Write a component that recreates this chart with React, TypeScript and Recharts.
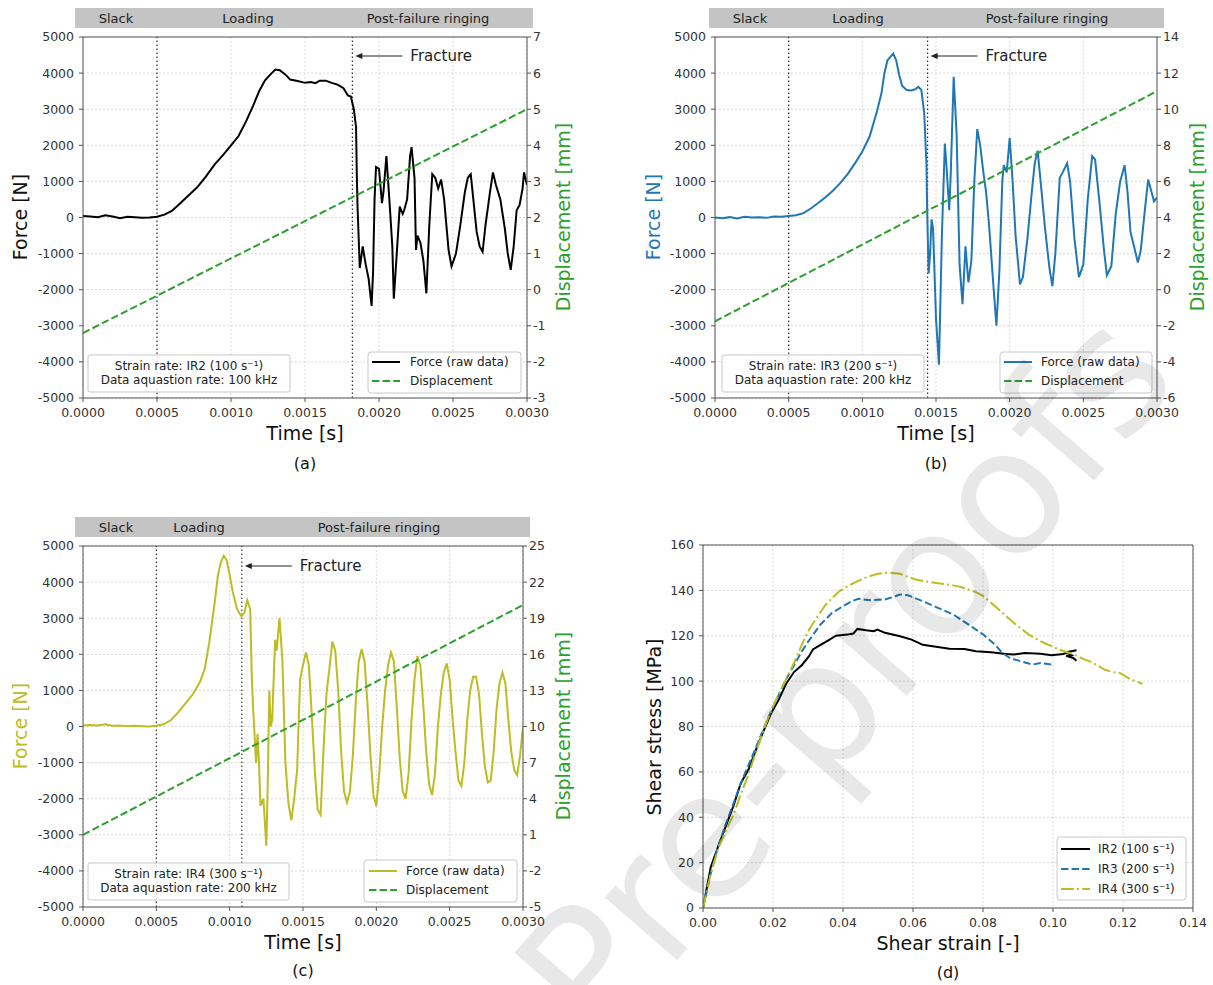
import React from 'react';
import { LineChart, Line, XAxis, YAxis, CartesianGrid, ReferenceLine } from 'recharts';

type Pt = [number, number];

const FONT = "'DejaVu Sans', sans-serif";
const AXIS = '#555';
const GREEN = '#2ca02c';
const BLUE = '#1f77b4';
const OLIVE = '#bcbd22';

// shared ticks
const timeTicks = [0, 0.0005, 0.001, 0.0015, 0.002, 0.0025, 0.003];
const forceTicks = [-5000, -4000, -3000, -2000, -1000, 0, 1000, 2000, 3000, 4000, 5000];
const dispTicksA = [-3, -2, -1, 0, 1, 2, 3, 4, 5, 6, 7];
const dispTicksB = [-6, -4, -2, 0, 2, 4, 6, 8, 10, 12, 14];
const dispTicksC = [-5, -2, 1, 4, 7, 10, 13, 16, 19, 22, 25];
const strainTicks = [0, 0.02, 0.04, 0.06, 0.08, 0.1, 0.12, 0.14];
const stressTicks = [0, 20, 40, 60, 80, 100, 120, 140, 160];

const slackEnd = 0.0005;
const fractureA = 0.00182;
const fractureB = 0.001443;
const fractureC = 0.001083;

// displacement (linear ramps)
const dispA: Pt[] = [[0, -1.2], [0.003, 5]];
const dispB: Pt[] = [[0, -1.75], [0.003, 11]];
const dispC: Pt[] = [[0, 1], [0.003, 20.1]];

// force, IR2
const forceA: Pt[] = [
  [0, 40], [0.00005, 30], [0.0001, 10], [0.00015, 60], [0.0002, 30], [0.00025, -20], [0.0003, 20],
  [0.00035, 10], [0.0004, -10], [0.00045, 0], [0.0005, 20], [0.00055, 80], [0.0006, 180], [0.00065, 370],
  [0.0007, 560], [0.00077, 830], [0.00083, 1130], [0.00089, 1470], [0.00095, 1750], [0.001, 2000],
  [0.00105, 2250], [0.0011, 2650], [0.00115, 3100], [0.00119, 3500], [0.00123, 3800], [0.00127, 3980],
  [0.0013, 4100], [0.00133, 4080], [0.00137, 3950], [0.0014, 3820], [0.00145, 3780], [0.0015, 3730],
  [0.00154, 3750], [0.00157, 3720], [0.0016, 3790], [0.00164, 3790], [0.00168, 3730], [0.00172, 3680],
  [0.00176, 3580], [0.00179, 3380], [0.00181, 3350], [0.00183, 3000], [0.001845, 2500], [0.00185, 1200],
  [0.001855, 300], [0.00187, -1400], [0.00189, -800], [0.00191, -1300], [0.00193, -1700], [0.00195, -2450],
  [0.00196, -1500], [0.00197, 500], [0.00198, 1400], [0.002, 1350], [0.00202, 400], [0.00203, 700],
  [0.00205, 1700], [0.00207, 500], [0.00209, -800], [0.0021, -2250], [0.00212, -1000], [0.00214, 300],
  [0.00216, 100], [0.00217, 200], [0.00219, 500], [0.00221, 1700], [0.00222, 1950], [0.00224, 1100],
  [0.00225, -900], [0.00226, -500], [0.00228, -700], [0.0023, -1200], [0.00232, -2100], [0.00234, -200],
  [0.00236, 1200], [0.00238, 1100], [0.0024, 800], [0.00242, 1050], [0.00244, 500], [0.00247, -900],
  [0.00249, -1350], [0.00252, -1000], [0.00255, -200], [0.00258, 700], [0.0026, 1100], [0.00262, 1200],
  [0.00264, 400], [0.00266, -400], [0.00268, -800], [0.0027, -950], [0.00272, -200], [0.00275, 700],
  [0.00277, 1250], [0.00279, 900], [0.00282, 500], [0.00285, -300], [0.00287, -1000], [0.00289, -1450],
  [0.00291, -800], [0.00293, 200], [0.00295, 350], [0.00297, 800], [0.00298, 1250], [0.003, 900],
];

// force, IR3
const forceB: Pt[] = [
  [0, 0], [0.00005, -20], [0.0001, 10], [0.00015, -30], [0.0002, 20], [0.00025, 0], [0.0003, 10],
  [0.00035, -10], [0.0004, 30], [0.00045, 20], [0.0005, 40], [0.00055, 60], [0.0006, 120], [0.00065, 250],
  [0.0007, 400], [0.00075, 560], [0.0008, 740], [0.00085, 950], [0.0009, 1200], [0.00095, 1500],
  [0.001, 1830], [0.00105, 2250], [0.0011, 2950], [0.00113, 3450], [0.00115, 4000], [0.00117, 4350],
  [0.00119, 4450], [0.00121, 4540], [0.00123, 4350], [0.00125, 3950], [0.00127, 3650], [0.0013, 3530],
  [0.00133, 3520], [0.00136, 3550], [0.00138, 3620], [0.0014, 3540], [0.00142, 2900], [0.001435, 1500],
  [0.00144, 200], [0.00145, -1550], [0.00146, -1000], [0.00147, -50], [0.00148, -300], [0.0015, -2800],
  [0.00152, -4080], [0.00154, -500], [0.00156, 2050], [0.00157, 1500], [0.00159, 200], [0.0016, 1200],
  [0.00162, 3900], [0.00164, 2300], [0.00166, -1300], [0.00168, -2400], [0.0017, -800], [0.00172, -1800],
  [0.00174, -1200], [0.00176, 1000], [0.00178, 2450], [0.0018, 2000], [0.00182, 1300], [0.00184, 700],
  [0.00186, -200], [0.00189, -1900], [0.00191, -3000], [0.00193, -1500], [0.00195, 1000], [0.00196, 1450],
  [0.00198, 1250], [0.002, 2200], [0.00202, 1000], [0.00204, -500], [0.00207, -1850], [0.00209, -1650],
  [0.00212, -600], [0.00215, 700], [0.00217, 1500], [0.00219, 1850], [0.00221, 1000], [0.00224, -300],
  [0.00227, -1400], [0.00229, -1900], [0.00231, -1000], [0.00234, 1100], [0.00236, 1250], [0.00239, 1500],
  [0.00241, 1000], [0.00244, -600], [0.00247, -1650], [0.0025, -1300], [0.00253, 500], [0.00256, 1700],
  [0.00258, 1600], [0.00261, 400], [0.00264, -900], [0.00266, -1600], [0.00269, -1350], [0.00272, 100],
  [0.00275, 1000], [0.00278, 1450], [0.0028, 700], [0.00282, -400], [0.00285, -900], [0.00287, -1250],
  [0.00289, -900], [0.00292, 300], [0.00294, 1050], [0.00296, 750], [0.00298, 450], [0.003, 550],
];

// force, IR4
const forceC: Pt[] = [
  [0, 30], [0.00005, 40], [0.0001, 30], [0.00015, 60], [0.0002, 20], [0.00025, 30], [0.0003, 10],
  [0.00035, 20], [0.0004, 10], [0.00045, 0], [0.0005, 20], [0.00055, 60], [0.0006, 180], [0.00065, 400],
  [0.0007, 650], [0.00075, 900], [0.0008, 1250], [0.00083, 1600], [0.00086, 2300], [0.00088, 2900],
  [0.0009, 3500], [0.00092, 4200], [0.00094, 4550], [0.00096, 4730], [0.00098, 4600], [0.001, 4200],
  [0.00102, 3750], [0.00105, 3250], [0.00108, 3050], [0.0011, 3150], [0.00112, 3500], [0.00114, 3250],
  [0.00115, 1500], [0.00116, 500], [0.00118, -1000], [0.00119, -200], [0.0012, -1000], [0.00121, -2200],
  [0.00123, -2000], [0.00125, -3300], [0.00126, -1500], [0.00127, 1000], [0.00128, 0], [0.00129, 200],
  [0.00131, 2400], [0.00132, 2100], [0.00134, 3000], [0.00136, 1800], [0.00138, -1000], [0.0014, -2100],
  [0.00142, -2600], [0.00144, -2000], [0.00146, -1200], [0.00148, 1300], [0.0015, 1700], [0.00152, 2050],
  [0.00154, 1700], [0.00156, 300], [0.00158, -1200], [0.0016, -2300], [0.00162, -2450], [0.00164, -600],
  [0.00166, 900], [0.00168, 1600], [0.0017, 2350], [0.00172, 2100], [0.00174, 1000], [0.00176, -700],
  [0.00178, -1800], [0.0018, -2100], [0.00182, -1800], [0.00184, -800], [0.00186, 700], [0.00188, 1800],
  [0.0019, 2150], [0.00192, 1800], [0.00194, 600], [0.00196, -800], [0.00198, -1900], [0.002, -2200],
  [0.00202, -1300], [0.00204, 0], [0.00206, 1000], [0.00208, 1700], [0.0021, 2050], [0.00212, 1800],
  [0.00214, 500], [0.00216, -900], [0.00218, -1800], [0.0022, -2000], [0.00222, -1300], [0.00224, 200],
  [0.00226, 1300], [0.00228, 1950], [0.0023, 1700], [0.00232, 600], [0.00234, -700], [0.00236, -1600],
  [0.00238, -1900], [0.0024, -1300], [0.00242, 0], [0.00244, 900], [0.00246, 1500], [0.00248, 1750],
  [0.0025, 1300], [0.00252, 200], [0.00254, -700], [0.00256, -1500], [0.00258, -1650], [0.0026, -1000],
  [0.00262, 200], [0.00264, 1000], [0.00266, 1380], [0.00268, 1380], [0.0027, 900], [0.00272, -200],
  [0.00274, -1100], [0.00276, -1550], [0.00278, -1500], [0.0028, -700], [0.00282, 500], [0.00284, 1200],
  [0.00286, 1500], [0.00288, 1200], [0.0029, 200], [0.00292, -700], [0.00294, -1200], [0.00296, -1350],
  [0.00298, -800], [0.003, 0],
];

// shear stress vs strain
const ir2: Pt[] = [
  [0, 0], [0.001, 8], [0.0022, 18], [0.0043, 27], [0.0065, 36], [0.0087, 45], [0.0108, 55], [0.013, 61],
  [0.0152, 70], [0.0173, 78], [0.0195, 86], [0.0217, 92], [0.0238, 99], [0.026, 104], [0.0282, 107],
  [0.0303, 111], [0.0314, 114], [0.0336, 116], [0.0358, 118], [0.038, 120], [0.0412, 120.5], [0.043, 121],
  [0.0441, 123], [0.0466, 122.4], [0.0488, 122], [0.0498, 122.7], [0.052, 121.3], [0.0563, 119.8],
  [0.0596, 118.3], [0.0628, 116], [0.0661, 115.3], [0.0704, 114.3], [0.0747, 114.2], [0.078, 113.2],
  [0.0823, 112.7], [0.0866, 112], [0.0888, 111.7], [0.092, 112.4], [0.0964, 112.1], [0.0996, 111.4],
  [0.1029, 112], [0.105, 113], [0.1067, 113.6], [0.104, 112.8], [0.1053, 111.5], [0.1038, 111.2],
  [0.1058, 110.2], [0.1067, 109],
];
const ir3: Pt[] = [
  [0, 0], [0.002, 14], [0.0043, 27], [0.0065, 37], [0.0087, 46], [0.0108, 55], [0.013, 63], [0.0152, 71],
  [0.0173, 79], [0.0195, 87], [0.0217, 94], [0.0238, 101], [0.026, 107], [0.0282, 113], [0.0303, 118],
  [0.0336, 125], [0.0368, 130], [0.04, 133], [0.0422, 135], [0.0444, 136.3], [0.0477, 135.7], [0.052, 136],
  [0.0541, 137], [0.0563, 138.2], [0.0585, 137.9], [0.0628, 135.2], [0.0671, 132.3], [0.0715, 129.4],
  [0.0758, 125], [0.0801, 120.5], [0.0834, 116.1], [0.0855, 112.4], [0.0877, 110.2], [0.0909, 108.7],
  [0.0942, 107.3], [0.0964, 108], [0.0996, 107.3],
];
const ir4: Pt[] = [
  [0, 0], [0.0022, 15], [0.0043, 26], [0.0065, 34], [0.0087, 41], [0.0108, 50], [0.013, 59], [0.0152, 69],
  [0.0173, 78.5], [0.0195, 87], [0.0217, 94.7], [0.0238, 101], [0.026, 108], [0.0282, 116], [0.0303, 122.7],
  [0.0325, 128], [0.0347, 133], [0.0368, 136.5], [0.039, 139.7], [0.0412, 141.7], [0.0433, 143.4],
  [0.0455, 145], [0.0477, 146.3], [0.05, 147.3], [0.052, 147.8], [0.0541, 147.7], [0.0563, 147.3],
  [0.0585, 146], [0.0607, 144.8], [0.0634, 144], [0.0661, 143.4], [0.0688, 142.8], [0.0715, 142.2],
  [0.0737, 141.5], [0.0758, 140.4], [0.078, 139.2], [0.0801, 137.5], [0.0823, 134.5], [0.0845, 131.6],
  [0.0866, 128.6], [0.0888, 125.7], [0.091, 123], [0.0931, 120.5], [0.0953, 118.5], [0.0975, 116.8],
  [0.1018, 113.9], [0.1061, 111.7], [0.1083, 110], [0.1105, 108.7], [0.1126, 107], [0.1148, 105],
  [0.117, 104], [0.1191, 103.6], [0.1224, 100.6], [0.1256, 98.8],
];

const toRows = (pts: Pt[]) => pts.map(([t, v]) => ({ t, v }));

const PAD_L = 60;
const PAD_R = 60;
const PAD_T = 10;
const PAD_B = 30;

type Rect = { x0: number; y0: number; x1: number; y1: number };

const tickStyle = { fill: '#333', fontSize: 12.5, fontFamily: FONT };

function ForceChart({ plot, force, disp, dispTicks, color, fracture }: {
  plot: Rect; force: Pt[]; disp: Pt[]; dispTicks: number[]; color: string; fracture: number;
}) {
  const w = plot.x1 - plot.x0 + PAD_L + PAD_R;
  const h = plot.y1 - plot.y0 + PAD_T + PAD_B;
  return (
    <div style={{ position: 'absolute', left: plot.x0 - PAD_L, top: plot.y0 - PAD_T }}>
      <LineChart width={w} height={h} margin={{ top: PAD_T, right: 0, bottom: 0, left: 0 }}>
        <CartesianGrid yAxisId="force" stroke="#d9d9d9" strokeDasharray="2 2" />
        <XAxis type="number" dataKey="t" domain={[0, 0.003]} ticks={timeTicks} allowDataOverflow
          tickFormatter={(v: number) => v.toFixed(4)} height={PAD_B} tick={tickStyle}
          stroke={AXIS} tickSize={4} tickMargin={6} />
        <YAxis yAxisId="force" domain={[-5000, 5000]} ticks={forceTicks} width={PAD_L} allowDataOverflow
          tick={tickStyle} stroke={AXIS} tickSize={4} tickMargin={5} />
        <YAxis yAxisId="disp" orientation="right" domain={[dispTicks[0], dispTicks[dispTicks.length - 1]]}
          ticks={dispTicks} width={PAD_R} allowDataOverflow tick={tickStyle} stroke={AXIS}
          tickSize={4} tickMargin={2} />
        <ReferenceLine yAxisId="force" y={5000} stroke={AXIS} />
        <ReferenceLine yAxisId="force" x={slackEnd} stroke="#333" strokeDasharray="1.5 2.5" strokeWidth={1.2} />
        <ReferenceLine yAxisId="force" x={fracture} stroke="#333" strokeDasharray="1.5 2.5" strokeWidth={1.2} />
        <Line yAxisId="force" data={toRows(force)} dataKey="v" type="linear" stroke={color} strokeWidth={2}
          dot={false} isAnimationActive={false} />
        <Line yAxisId="disp" data={toRows(disp)} dataKey="v" type="linear" stroke={GREEN} strokeWidth={2}
          strokeDasharray="7.4 3.2" dot={false} isAnimationActive={false} />
      </LineChart>
    </div>
  );
}

function StressChart({ plot }: { plot: Rect }) {
  const w = plot.x1 - plot.x0 + PAD_L + PAD_R;
  const h = plot.y1 - plot.y0 + PAD_T + PAD_B;
  return (
    <div style={{ position: 'absolute', left: plot.x0 - PAD_L, top: plot.y0 - PAD_T }}>
      <LineChart width={w} height={h} margin={{ top: PAD_T, right: PAD_R, bottom: 0, left: 0 }}>
        <CartesianGrid stroke="#d9d9d9" strokeDasharray="2 2" />
        <XAxis type="number" dataKey="t" domain={[0, 0.14]} ticks={strainTicks} allowDataOverflow
          tickFormatter={(v: number) => v.toFixed(2)} height={PAD_B} tick={tickStyle}
          stroke={AXIS} tickSize={4} tickMargin={6} />
        <YAxis domain={[0, 160]} ticks={stressTicks} width={PAD_L} allowDataOverflow
          tick={tickStyle} stroke={AXIS} tickSize={4} tickMargin={5} />
        <ReferenceLine y={160} stroke={AXIS} />
        <ReferenceLine x={0.14} stroke={AXIS} />
        <Line data={toRows(ir2)} dataKey="v" type="linear" stroke="#000" strokeWidth={2}
          dot={false} isAnimationActive={false} />
        <Line data={toRows(ir3)} dataKey="v" type="linear" stroke={BLUE} strokeWidth={2}
          strokeDasharray="7.4 3.2" dot={false} isAnimationActive={false} />
        <Line data={toRows(ir4)} dataKey="v" type="linear" stroke={OLIVE} strokeWidth={2}
          strokeDasharray="12.8 3.2 2 3.2" dot={false} isAnimationActive={false} />
      </LineChart>
    </div>
  );
}

function Banner({ x, y, w, labels }: { x: number; y: number; w: number; labels: [string, number][] }) {
  return (
    <g>
      <rect x={x} y={y} width={w} height={20} fill="#c4c4c4" />
      {labels.map(([s, cx]) => (
        <text key={s} x={cx} y={y + 10} textAnchor="middle" dominantBaseline="central" fontSize={13} fill="#222">{s}</text>
      ))}
    </g>
  );
}

function Fracture({ lineX, y }: { lineX: number; y: number }) {
  const tip = lineX + 3;
  return (
    <g>
      <line x1={tip + 4} y1={y} x2={tip + 47} y2={y} stroke="#222" strokeWidth={1.2} />
      <polygon points={`${tip},${y} ${tip + 7},${y - 3} ${tip + 7},${y + 3}`} fill="#222" />
      <text x={tip + 55} y={y} dominantBaseline="central" fontSize={15} fill="#222">Fracture</text>
    </g>
  );
}

function InfoBox({ x, y, w, h, lines }: { x: number; y: number; w: number; h: number; lines: string[] }) {
  return (
    <g>
      <rect x={x} y={y} width={w} height={h} rx={2} fill="rgba(255,255,255,0.85)" stroke="#c8c8c8" />
      {lines.map((s, i) => (
        <text key={s} x={x + w / 2} y={y + 11 + i * 14} textAnchor="middle" dominantBaseline="central" fontSize={12} fill="#222">{s}</text>
      ))}
    </g>
  );
}

type LegendItem = { label: string; color: string; dash?: string };

function LegendBox({ x, y, w, h, items, rowY, sx0, sx1, tx }: {
  x: number; y: number; w: number; h: number; items: LegendItem[]; rowY: number[]; sx0: number; sx1: number; tx: number;
}) {
  return (
    <g>
      <rect x={x} y={y} width={w} height={h} rx={3} fill="rgba(255,255,255,0.85)" stroke="#c8c8c8" />
      {items.map((it, i) => (
        <g key={it.label}>
          <line x1={sx0} y1={rowY[i]} x2={sx1} y2={rowY[i]} stroke={it.color} strokeWidth={2} strokeDasharray={it.dash} />
          <text x={tx} y={rowY[i]} dominantBaseline="central" fontSize={12} fill="#222">{it.label}</text>
        </g>
      ))}
    </g>
  );
}

function VTitle({ x, y, text, color, size = 19 }: { x: number; y: number; text: string; color: string; size?: number }) {
  return (
    <text transform={`translate(${x},${y}) rotate(-90)`} textAnchor="middle" dominantBaseline="central" fontSize={size} fill={color}>{text}</text>
  );
}

function HTitle({ x, y, text, size = 19 }: { x: number; y: number; text: string; size?: number }) {
  return <text x={x} y={y} textAnchor="middle" dominantBaseline="central" fontSize={size} fill="#111">{text}</text>;
}

const plotA: Rect = { x0: 83, y0: 37, x1: 527, y1: 398 };
const plotB: Rect = { x0: 715, y0: 37, x1: 1157, y1: 398 };
const plotC: Rect = { x0: 83, y0: 546, x1: 523, y1: 907 };
const plotD: Rect = { x0: 703, y0: 545, x1: 1193, y1: 908 };

const forceLegend = (color: string): LegendItem[] => [
  { label: 'Force (raw data)', color },
  { label: 'Displacement', color: GREEN, dash: '7.4 3.2' },
];

const tx = (p: Rect, t: number) => p.x0 + (t / 0.003) * (p.x1 - p.x0);

export default function App() {
  return (
    <div style={{ position: 'absolute', left: 0, top: 0, width: 1213, height: 985, background: '#fff', fontFamily: FONT, overflow: 'hidden' }}>
      <ForceChart plot={plotA} force={forceA} disp={dispA} dispTicks={dispTicksA} color="#000" fracture={fractureA} />
      <ForceChart plot={plotB} force={forceB} disp={dispB} dispTicks={dispTicksB} color={BLUE} fracture={fractureB} />
      <ForceChart plot={plotC} force={forceC} disp={dispC} dispTicks={dispTicksC} color={OLIVE} fracture={fractureC} />
      <StressChart plot={plotD} />

      <svg width={1213} height={985} style={{ position: 'absolute', left: 0, top: 0, pointerEvents: 'none', fontFamily: FONT }}>
        {/* (a) */}
        <Banner x={75} y={8} w={458} labels={[['Slack', 116], ['Loading', 248], ['Post-failure ringing', 428]]} />
        <Fracture lineX={tx(plotA, fractureA)} y={56} />
        <InfoBox x={88} y={355} w={202} h={37} lines={['Strain rate: IR2 (100 s⁻¹)', 'Data aquastion rate: 100 kHz']} />
        <LegendBox x={368} y={352} w={153} h={41} items={forceLegend('#000')} rowY={[362, 381]} sx0={372} sx1={400} tx={410} />
        <VTitle x={20} y={217} text="Force [N]" color="#111" />
        <VTitle x={563} y={217} text="Displacement [mm]" color={GREEN} />
        <HTitle x={305} y={433} text="Time [s]" />
        <HTitle x={305} y={463} text="(a)" size={16} />

        {/* (b) */}
        <Banner x={709} y={8} w={455} labels={[['Slack', 750], ['Loading', 858], ['Post-failure ringing', 1047]]} />
        <Fracture lineX={tx(plotB, fractureB)} y={56} />
        <InfoBox x={722} y={355} w={202} h={37} lines={['Strain rate: IR3 (200 s⁻¹)', 'Data aquastion rate: 200 kHz']} />
        <LegendBox x={1000} y={352} w={152} h={41} items={forceLegend(BLUE)} rowY={[362, 381]} sx0={1004} sx1={1032} tx={1041} />
        <VTitle x={653} y={217} text="Force [N]" color={BLUE} />
        <VTitle x={1197} y={217} text="Displacement [mm]" color={GREEN} />
        <HTitle x={936} y={433} text="Time [s]" />
        <HTitle x={936} y={463} text="(b)" size={16} />

        {/* (c) */}
        <Banner x={75} y={517} w={455} labels={[['Slack', 116], ['Loading', 199], ['Post-failure ringing', 379]]} />
        <Fracture lineX={tx(plotC, fractureC)} y={566} />
        <InfoBox x={88} y={863} w={201} h={37} lines={['Strain rate: IR4 (300 s⁻¹)', 'Data aquastion rate: 200 kHz']} />
        <LegendBox x={364} y={860} w={153} h={42} items={forceLegend(OLIVE)} rowY={[871, 890]} sx0={369} sx1={397} tx={406} />
        <VTitle x={20} y={726} text="Force [N]" color={OLIVE} />
        <VTitle x={563} y={726} text="Displacement [mm]" color={GREEN} />
        <HTitle x={303} y={942} text="Time [s]" />
        <HTitle x={303} y={970} text="(c)" size={16} />

        {/* (d) */}
        <LegendBox x={1057} y={837} w={129} h={63}
          items={[
            { label: 'IR2 (100 s⁻¹)', color: '#000' },
            { label: 'IR3 (200 s⁻¹)', color: BLUE, dash: '7.4 3.2' },
            { label: 'IR4 (300 s⁻¹)', color: OLIVE, dash: '12.8 3.2 2 3.2' },
          ]}
          rowY={[849, 869, 889]} sx0={1061} sx1={1090} tx={1098} />
        <VTitle x={654} y={727} text="Shear stress [MPa]" color="#111" />
        <HTitle x={948} y={943} text="Shear strain [-]" />
        <HTitle x={948} y={972} text="(d)" size={16} />

        {/* watermark */}
        <text x={845} y={675} transform="rotate(-49 845 675)" textAnchor="middle" dominantBaseline="central"
          fontSize={175} fill="#000" fillOpacity={0.09}>Pre-proofs</text>
      </svg>
    </div>
  );
}
